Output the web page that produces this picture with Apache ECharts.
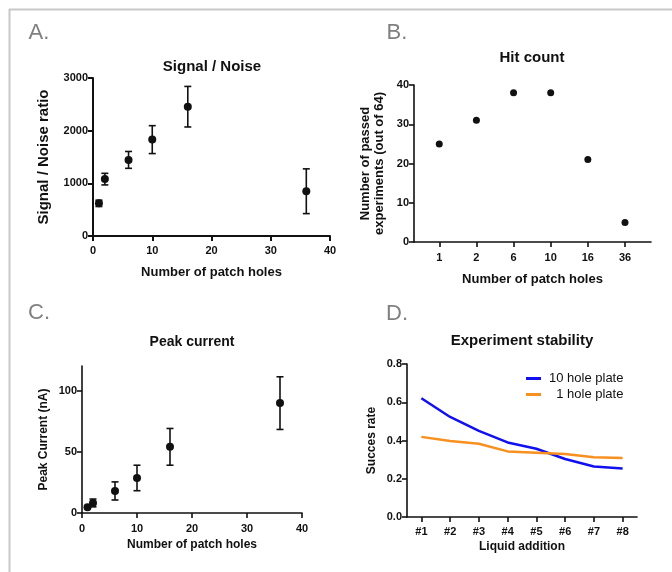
<!DOCTYPE html>
<html>
<head>
<meta charset="utf-8">
<script src="https://cdn.jsdelivr.net/npm/echarts@6/dist/echarts.min.js"></script>
<style>
  html, body { margin: 0; padding: 0; background: #fff; }
  #chart { width: 672px; height: 572px; }
</style>
</head>
<body>
<div id="chart"></div>
<script>
// data
const holes = [1, 2, 6, 10, 16, 36];
const snrMean = [620, 1080, 1445, 1830, 2455, 850];
const snrErr = [60, 110, 160, 265, 385, 425];

const hitLabels = ["1", "2", "6", "10", "16", "36"];
const hitCount = [25, 31, 38, 38, 21, 5];

const peakMean = [4.6, 8.2, 18, 28.6, 54, 89.7];
const peakErr = [1, 3.2, 7.4, 10.4, 15, 21.5];

const additions = ["#1", "#2", "#3", "#4", "#5", "#6", "#7", "#8"];
const plate10 = [0.621, 0.523, 0.45, 0.39, 0.357, 0.303, 0.264, 0.254];
const plate1 = [0.419, 0.397, 0.383, 0.343, 0.336, 0.329, 0.313, 0.308];

const FONT = "Liberation Sans, Arial, sans-serif";
const INK = "#111";

const chart = echarts.init(document.getElementById("chart"));

function errorBars(params, api) {
  const x = api.value(0);
  const top = api.coord([x, api.value(2)]);
  const bot = api.coord([x, api.value(1)]);
  const w = 3.5;
  const st = { stroke: INK, lineWidth: 1.6 };
  return {
    type: "group",
    children: [
      { type: "line", shape: { x1: top[0], y1: top[1], x2: bot[0], y2: bot[1] }, style: st },
      { type: "line", shape: { x1: top[0] - w, y1: top[1], x2: top[0] + w, y2: top[1] }, style: st },
      { type: "line", shape: { x1: bot[0] - w, y1: bot[1], x2: bot[0] + w, y2: bot[1] }, style: st },
    ],
  };
}

function axisBase(lineWidth, labelSize, margin) {
  return {
    axisLine: { show: true, onZero: false, lineStyle: { color: INK, width: lineWidth } },
    axisTick: { show: true, inside: false, length: 5, lineStyle: { color: INK, width: lineWidth } },
    axisLabel: { color: INK, fontFamily: FONT, fontWeight: "bold", fontSize: labelSize, margin: margin || 5, formatter: (v) => String(v) },
    splitLine: { show: false },
    nameLocation: "middle",
  };
}

function nameStyle(size) {
  return { color: INK, fontFamily: FONT, fontWeight: "bold", fontSize: size, lineHeight: size + 1 };
}

function txt(text, x, y, size, color, weight) {
  return {
    type: "text",
    x: x,
    y: y,
    style: {
      text: text,
      font: (weight || "normal") + " " + size + "px " + FONT,
      fill: color,
      align: "center",
      verticalAlign: "middle",
    },
  };
}

const errA = holes.map((h, i) => [h, snrMean[i] - snrErr[i], snrMean[i] + snrErr[i]]);
const errC = holes.map((h, i) => [h, peakMean[i] - peakErr[i], peakMean[i] + peakErr[i]]);
const dot = { color: INK, opacity: 1 };

chart.setOption({
  animation: false,
  backgroundColor: "#fff",
  textStyle: { fontFamily: FONT },
  grid: [
    { left: 93, top: 78, width: 237, height: 158 },
    { left: 414, top: 85, width: 237, height: 157 },
    { left: 82, top: 366, width: 220, height: 147 },
    { left: 407, top: 364, width: 230, height: 153 },
  ],
  xAxis: [
    Object.assign(axisBase(2, 11, 9), {
      gridIndex: 0, type: "value", min: 0, max: 40, interval: 10,
      name: "Number of patch holes", nameGap: 29, nameTextStyle: nameStyle(13),
    }),
    Object.assign(axisBase(1.6, 11), {
      gridIndex: 1, type: "value", min: 0.32, max: 6.7,
      axisTick: { show: true, length: 5, customValues: [1, 2, 3, 4, 5, 6], lineStyle: { color: INK, width: 1.6 } },
      axisLabel: {
        color: INK, fontFamily: FONT, fontWeight: "bold", fontSize: 11, margin: 10,
        customValues: [1, 2, 3, 4, 5, 6],
        formatter: (v) => hitLabels[Math.round(v) - 1],
      },
      name: "Number of patch holes", nameGap: 30, nameTextStyle: nameStyle(13),
    }),
    Object.assign(axisBase(1.6, 11, 10), {
      gridIndex: 2, type: "value", min: 0, max: 40, interval: 10,
      name: "Number of patch holes", nameGap: 25, nameTextStyle: nameStyle(12),
    }),
    Object.assign(axisBase(1.6, 11), {
      gridIndex: 3, type: "category", data: additions, boundaryGap: true,
      axisTick: { show: true, length: 5, alignWithLabel: true, lineStyle: { color: INK, width: 1.6 } },
      axisLabel: { color: INK, fontFamily: FONT, fontWeight: "bold", fontSize: 11, margin: 9 },
      name: "Liquid addition", nameGap: 23, nameTextStyle: nameStyle(12),
    }),
  ],
  yAxis: [
    Object.assign(axisBase(2, 11), {
      gridIndex: 0, type: "value", min: 0, max: 3000, interval: 1000,
      name: "Signal / Noise ratio", nameGap: 41, nameTextStyle: nameStyle(15),
    }),
    Object.assign(axisBase(1.6, 11), {
      gridIndex: 1, type: "value", min: 0, max: 40, interval: 10,
      name: "Number of passed\nexperiments (out of 64)", nameGap: 28, nameTextStyle: nameStyle(13),
    }),
    Object.assign(axisBase(1.6, 11), {
      gridIndex: 2, type: "value", min: 0, max: 120,
      axisTick: { show: true, length: 5, customValues: [0, 50, 100], lineStyle: { color: INK, width: 1.6 } },
      axisLabel: { color: INK, fontFamily: FONT, fontWeight: "bold", fontSize: 11, margin: 5, customValues: [0, 50, 100] },
      name: "Peak Current (nA)", nameGap: 32, nameTextStyle: nameStyle(12),
    }),
    Object.assign(axisBase(1.6, 11), {
      gridIndex: 3, type: "value", min: 0, max: 0.8, interval: 0.2,
      axisLabel: { color: INK, fontFamily: FONT, fontWeight: "bold", fontSize: 11, margin: 5, formatter: (v) => v.toFixed(1) },
      name: "Succes rate", nameGap: 29, nameTextStyle: nameStyle(12),
    }),
  ],
  legend: {
    orient: "vertical",
    left: 521,
    top: 367,
    icon: "rect",
    itemWidth: 15,
    itemHeight: 3,
    itemGap: 3,
    textStyle: { color: INK, fontFamily: FONT, fontSize: 13, padding: [0, 0, 0, 3] },
    data: ["10 hole plate", "  1 hole plate"],
  },
  graphic: [
    { type: "line", shape: { x1: 9, y1: 9.5, x2: 672, y2: 9.5 }, style: { stroke: "#c8c8c8", lineWidth: 2 } },
    { type: "line", shape: { x1: 9.5, y1: 9, x2: 9.5, y2: 572 }, style: { stroke: "#c8c8c8", lineWidth: 2 } },
    txt("A.", 39, 33, 22, "#808080"),
    txt("B.", 397, 33, 22, "#808080"),
    txt("C.", 39, 313, 22, "#808080"),
    txt("D.", 397, 314, 22, "#808080"),
    txt("Signal / Noise", 212, 67, 15, INK, "bold"),
    txt("Hit count", 532, 58, 15, INK, "bold"),
    txt("Peak current", 192, 342, 14, INK, "bold"),
    txt("Experiment stability", 522, 341, 15, INK, "bold"),
  ],
  series: [
    {
      type: "custom", xAxisIndex: 0, yAxisIndex: 0, renderItem: errorBars,
      data: errA, encode: { x: 0, y: [1, 2] }, silent: true, z: 2,
    },
    {
      type: "scatter", xAxisIndex: 0, yAxisIndex: 0, symbolSize: 8,
      itemStyle: dot, data: holes.map((h, i) => [h, snrMean[i]]), z: 3,
    },
    {
      type: "scatter", xAxisIndex: 1, yAxisIndex: 1, symbolSize: 7,
      itemStyle: dot, data: hitCount.map((c, i) => [i + 1, c]), z: 3,
    },
    {
      type: "custom", xAxisIndex: 2, yAxisIndex: 2, renderItem: errorBars,
      data: errC, encode: { x: 0, y: [1, 2] }, silent: true, z: 2,
    },
    {
      type: "scatter", xAxisIndex: 2, yAxisIndex: 2, symbolSize: 8,
      itemStyle: dot, data: holes.map((h, i) => [h, peakMean[i]]), z: 3,
    },
    {
      name: "10 hole plate", type: "line", xAxisIndex: 3, yAxisIndex: 3,
      showSymbol: false, symbol: "none", lineStyle: { color: "#1010f0", width: 2.5 },
      itemStyle: { color: "#1010f0" }, data: plate10,
    },
    {
      name: "  1 hole plate", type: "line", xAxisIndex: 3, yAxisIndex: 3,
      showSymbol: false, symbol: "none", lineStyle: { color: "#f7901e", width: 2.5 },
      itemStyle: { color: "#f7901e" }, data: plate1,
    },
  ],
});
</script>
</body>
</html>
